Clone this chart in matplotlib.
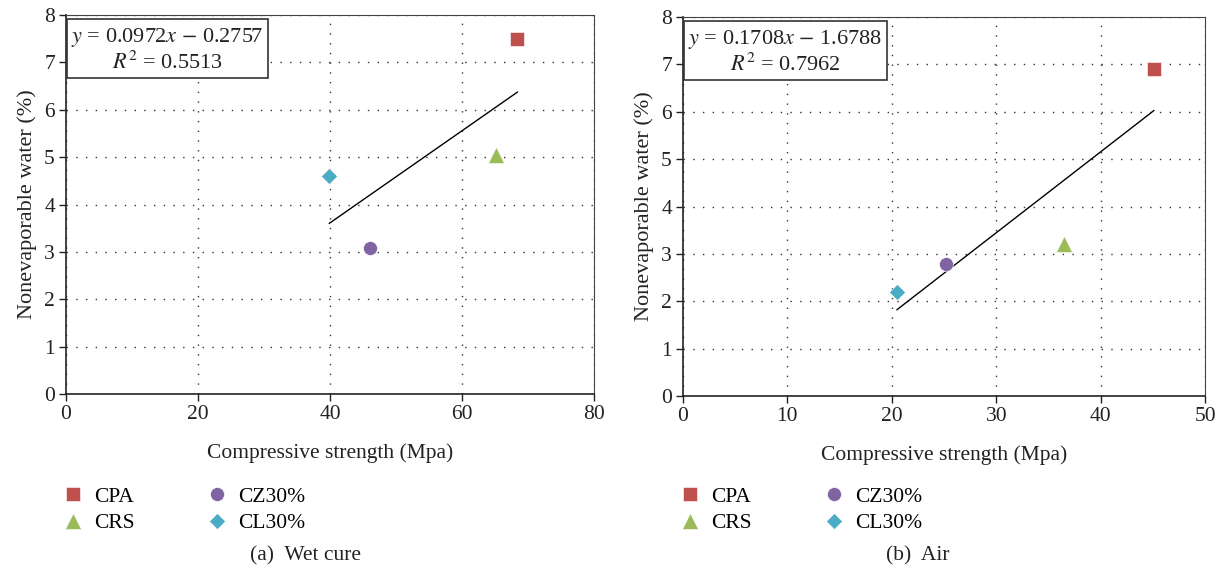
import matplotlib
matplotlib.use("Agg")
import matplotlib.pyplot as plt
import numpy as np

plt.rcParams['font.family'] = ['Liberation Serif', 'DejaVu Serif']
plt.rcParams['mathtext.fontset'] = 'stix'

# Materials and colours
materials = ['CPA', 'CRS', 'CZ30%', 'CL30%']
markers = ['s', '^', 'o', 'D']
msizes = [10, 11.5, 10, 8.5]
colors = ['#C0504D', '#9BBB59', '#8064A2', '#4BACC6']

# (a) Wet cure
wet_strength = [68.4, 65.1, 46.0, 39.9]
wet_water = [7.5, 5.05, 3.08, 4.6]
wet_fit = (0.0972, -0.2757, 0.5513)

# (b) Air
air_strength = [45.1, 36.5, 25.2, 20.5]
air_water = [6.9, 3.2, 2.78, 2.2]
air_fit = (0.1708, -1.6788, 0.7962)

W, H = 1220, 569
FS = 15.5
fig = plt.figure(figsize=(W / 100, H / 100), dpi=100)


def panel(rect, xs, ys, fit, xmax, xstep, caption, cap_x, leg_x):
    ax = fig.add_axes(rect)
    slope, icpt, r2 = fit
    for name, x, y, m, ms, c in zip(materials, xs, ys, markers, msizes, colors):
        ax.plot([x], [y], linestyle='none', marker=m, markersize=ms,
                color=c, markeredgecolor='white', markeredgewidth=0.4,
                label=name, zorder=3)
    lx = np.array([min(xs), max(xs)])
    ax.plot(lx, slope * lx + icpt, color='black', lw=1.0, zorder=2)

    ax.set_xlim(0, xmax)
    ax.set_ylim(0, 8)
    ax.set_xticks(np.arange(0, xmax + 1, xstep))
    ax.set_yticks(range(0, 9))
    ax.grid(True, color='#333333', linestyle=(0, (1, 6)), lw=1.0)
    ax.set_axisbelow(True)
    ax.tick_params(labelsize=FS, direction='out', length=5, width=1,
                   colors='#222222', labelcolor='#222222', pad=3)
    for s in ['top', 'right']:
        ax.spines[s].set_color('#444444')
    for s in ['left', 'bottom']:
        ax.spines[s].set_color('#222222')
        ax.spines[s].set_linewidth(1.2)
    ax.set_xlabel('Compressive strength (Mpa)', fontsize=FS, labelpad=14,
                  color='#222222')
    ax.set_ylabel('Nonevaporable water (%)', fontsize=FS + 0.5, labelpad=5,
                  color='#222222')

    if icpt < 0:
        eq = r'$y$ = %.4f$x$ $-$ %.4f' % (slope, abs(icpt))
    else:
        eq = r'$y$ = %.4f$x$ + %.4f' % (slope, icpt)
    ax.text(0.01, 0.972, eq + '\n' + r'$R^2$ = %.4f' % r2,
            transform=ax.transAxes, ha='left', va='top',
            multialignment='center', fontsize=16, color='#222222',
            linespacing=1.15,
            bbox=dict(boxstyle='square,pad=0.2', fc='white', ec='#333333',
                      lw=1.2), zorder=5)

    ax.legend(loc='upper left', bbox_to_anchor=(leg_x / W, 1 - 478 / H),
              bbox_transform=fig.transFigure, ncol=2, frameon=False,
              fontsize=FS, handletextpad=0.4, columnspacing=3.3,
              labelspacing=0.3, handlelength=1.1, borderaxespad=0)
    fig.text(cap_x / W, 1 - 556 / H, caption, ha='center', va='center',
             fontsize=FS, color='#222222')
    return ax


panel([66 / W, 1 - 394 / H, 528 / W, 379 / H], wet_strength, wet_water,
      wet_fit, 80, 20, '(a)  Wet cure', 305, 53)
panel([683 / W, 1 - 396 / H, 522 / W, 379 / H], air_strength, air_water,
      air_fit, 50, 10, '(b)  Air', 918, 670)

fig.savefig('out.png', dpi=100)
